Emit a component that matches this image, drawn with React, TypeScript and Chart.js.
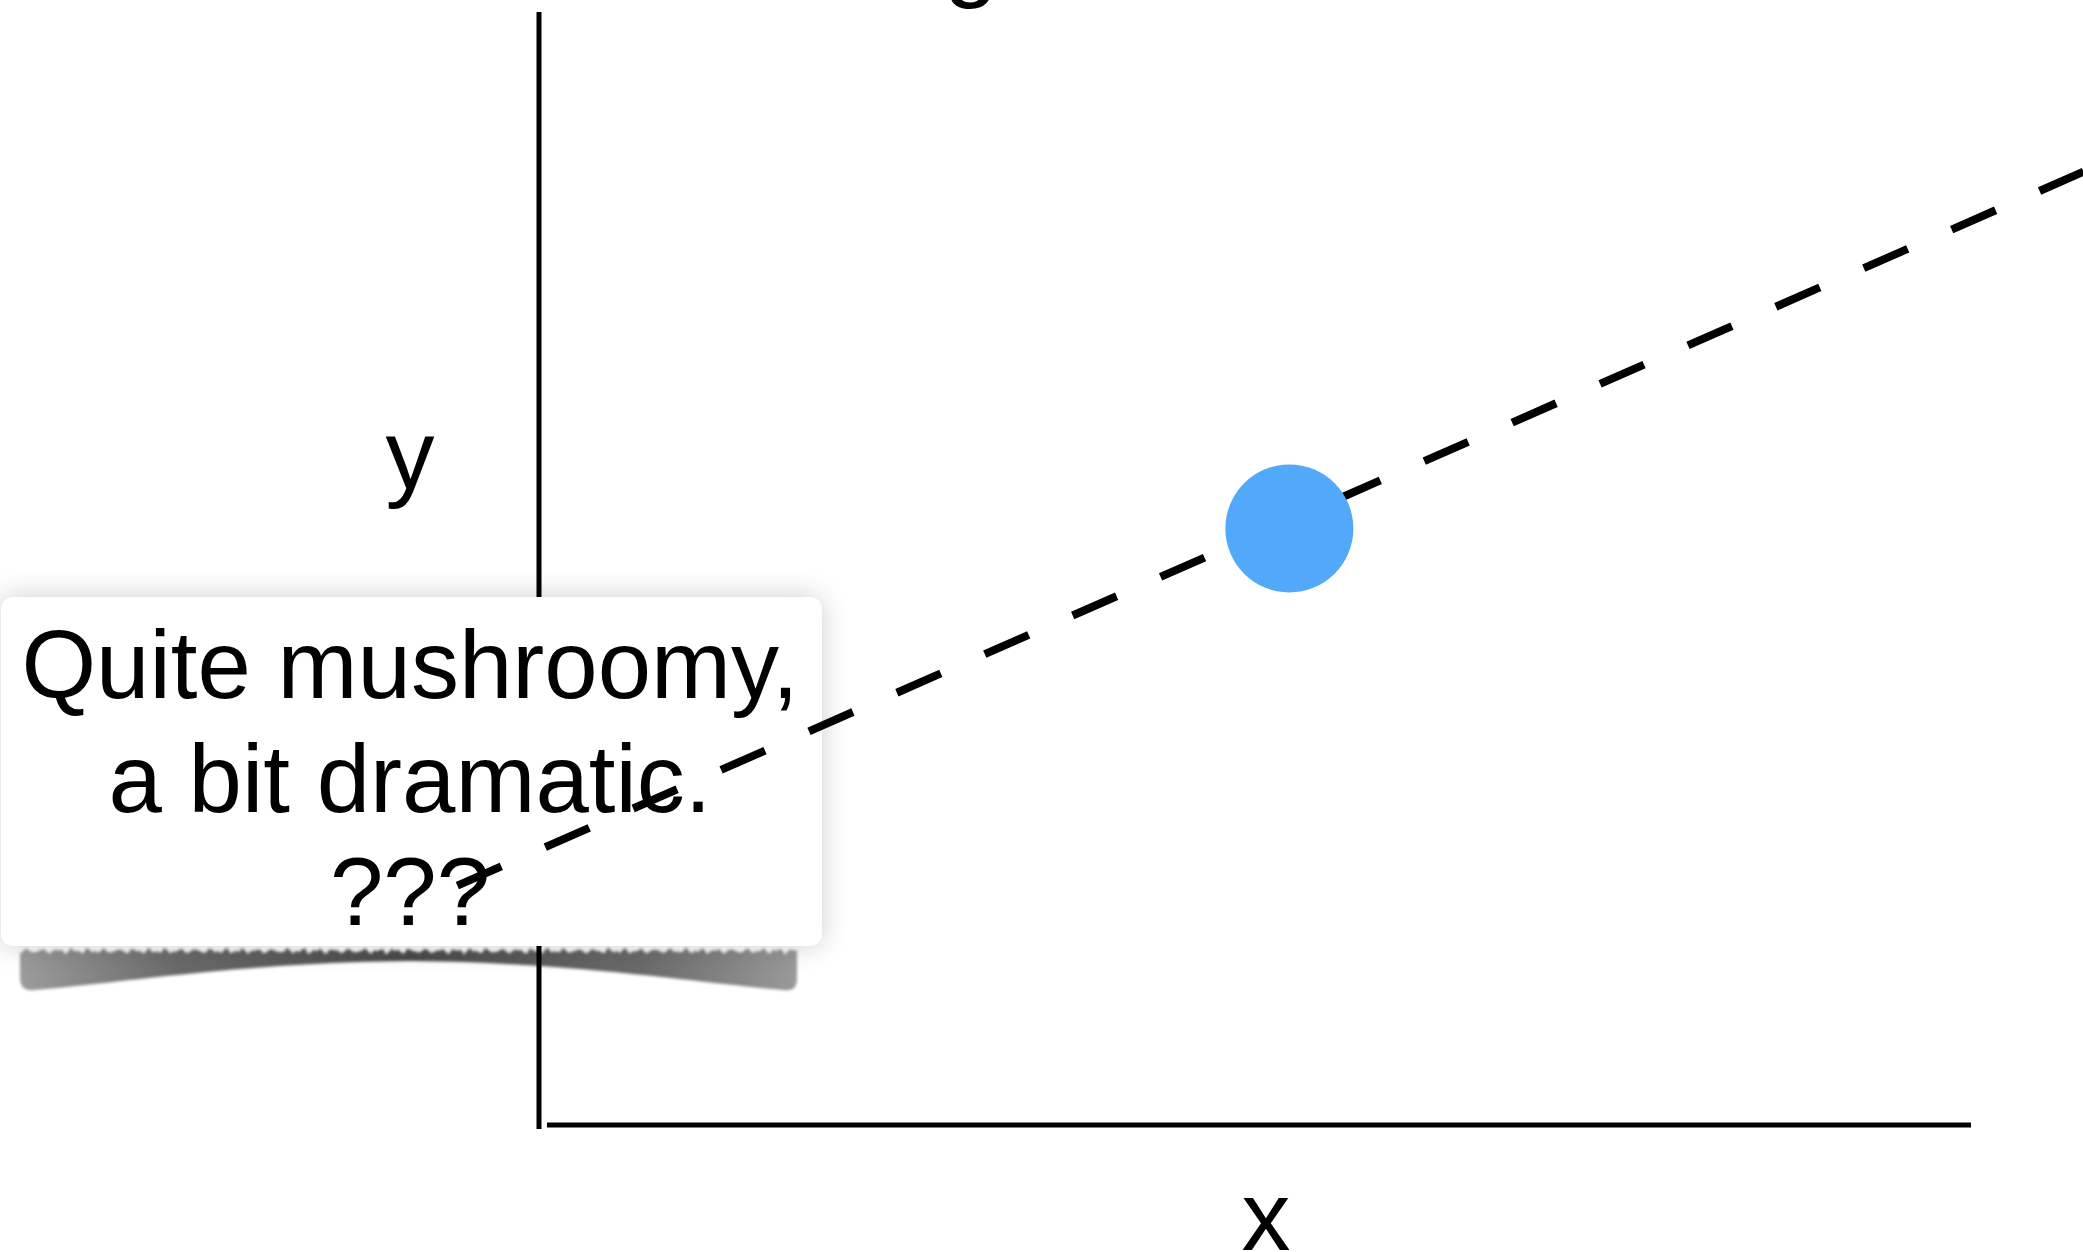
import React, { useEffect, useRef } from "react";
import { Chart, registerables } from "chart.js";

Chart.register(...registerables);

// The single tasted sample
const pointX = [52.4];
const pointY = [53.6];

// Dashed trend line endpoints (runs past both edges of the plot)
const trendX = [-5.7, 109.0];
const trendY = [21.5, 86.3];

// Axis titles
const axisTitleX = "x";
const axisTitleY = "y";

// Sticky note text
const noteLines = ["Quite mushroomy,", "a bit dramatic.", "???"];

// Title sits above the canvas; only its descender reaches into view
const titleText = "g";

const FONT = '"Liberation Sans", Arial, Helvetica, sans-serif';

const decorPlugin = {
  id: "decor",
  beforeDatasetsDraw(chart: any) {
    const { ctx, chartArea: a } = chart;
    ctx.save();

    // Title (mostly above the top edge)
    ctx.fillStyle = "#000";
    ctx.textAlign = "center";
    ctx.textBaseline = "alphabetic";
    ctx.font = `98px ${FONT}`;
    ctx.fillText(titleText, 971, -11);

    // Axis titles
    ctx.fillText(axisTitleY, a.left - 129, 489);
    ctx.fillText(axisTitleX, (a.left + a.right) / 2 + 11, 1250);

    // Curled-paper shadow under the note
    ctx.save();
    ctx.filter = "blur(1.5px)";
    const grad = ctx.createLinearGradient(20, 0, 797, 0);
    grad.addColorStop(0, "#9c9c9c");
    grad.addColorStop(0.2, "#6a6a6a");
    grad.addColorStop(0.5, "#4a4a4a");
    grad.addColorStop(0.8, "#6a6a6a");
    grad.addColorStop(1, "#9a9a9a");
    ctx.fillStyle = grad;
    ctx.beginPath();
    for (let x = 20; x <= 797; x += 3) {
      const y = 951 + 1.8 * Math.sin(x * 0.41) + 1.3 * Math.sin(x * 1.37 + 1) + 0.8 * Math.sin(x * 2.9);
      if (x === 20) ctx.moveTo(x, y);
      else ctx.lineTo(x, y);
    }
    ctx.lineTo(797, 980);
    ctx.quadraticCurveTo(797, 992, 783, 990);
    ctx.bezierCurveTo(700, 983, 570, 962, 410, 961);
    ctx.bezierCurveTo(250, 962, 120, 983, 35, 990);
    ctx.quadraticCurveTo(20, 992, 20, 978);
    ctx.closePath();
    ctx.fill();
    ctx.restore();

    // Axes
    ctx.strokeStyle = "#000";
    ctx.lineWidth = 5;
    ctx.lineCap = "butt";
    ctx.beginPath();
    ctx.moveTo(a.left, a.top);
    ctx.lineTo(a.left, a.bottom + 4);
    ctx.stroke();
    ctx.beginPath();
    ctx.moveTo(a.left + 8, a.bottom);
    ctx.lineTo(a.right, a.bottom);
    ctx.stroke();

    // Note card
    ctx.save();
    ctx.shadowColor = "rgba(0,0,0,0.2)";
    ctx.shadowBlur = 28;
    ctx.fillStyle = "#ffffff";
    ctx.beginPath();
    ctx.roundRect(1, 597, 821, 349, 12);
    ctx.fill();
    ctx.restore();

    ctx.fillStyle = "#000";
    ctx.font = `96px ${FONT}`;
    ctx.textAlign = "center";
    noteLines.forEach((t, i) => ctx.fillText(t, 410, 698 + i * 113.5));

    ctx.restore();
  },
};

export default function App() {
  const canvasRef = useRef<HTMLCanvasElement | null>(null);

  useEffect(() => {
    const canvas = canvasRef.current;
    if (!canvas) return;
    const chart = new Chart(canvas, {
      type: "scatter",
      data: {
        datasets: [
          {
            label: "sample",
            data: pointX.map((x, i) => ({ x, y: pointY[i] })),
            pointBackgroundColor: "rgb(82,168,249)",
            pointBorderColor: "rgb(82,168,249)",
            pointBorderWidth: 0,
            pointRadius: 64,
            pointHoverRadius: 64,
            order: 1,
            clip: false,
          } as any,
          {
            label: "trend",
            data: trendX.map((x, i) => ({ x, y: trendY[i] })),
            showLine: true,
            borderColor: "#000",
            borderWidth: 8,
            borderDash: [48, 48],
            borderCapStyle: "butt",
            pointRadius: 0,
            pointHoverRadius: 0,
            fill: false,
            tension: 0,
            order: 2,
            clip: false,
          } as any,
        ],
      },
      options: {
        animation: false,
        responsive: false,
        devicePixelRatio: 1,
        events: [],
        layout: { autoPadding: false, padding: { left: 539, right: 112, top: 12, bottom: 127 } },
        plugins: {
          legend: { display: false },
          title: { display: false },
          tooltip: { enabled: false },
        },
        scales: {
          x: { type: "linear", display: false, min: 0, max: 100 },
          y: { type: "linear", display: false, min: 0, max: 100 },
        },
      },
      plugins: [decorPlugin],
    });
    return () => chart.destroy();
  }, []);

  return (
    <div style={{ position: "fixed", left: 0, top: 0, width: "100vw", height: "100vh", background: "#fff" }}>
      <canvas ref={canvasRef} width={2083} height={1252} style={{ display: "block" }} />
    </div>
  );
}
